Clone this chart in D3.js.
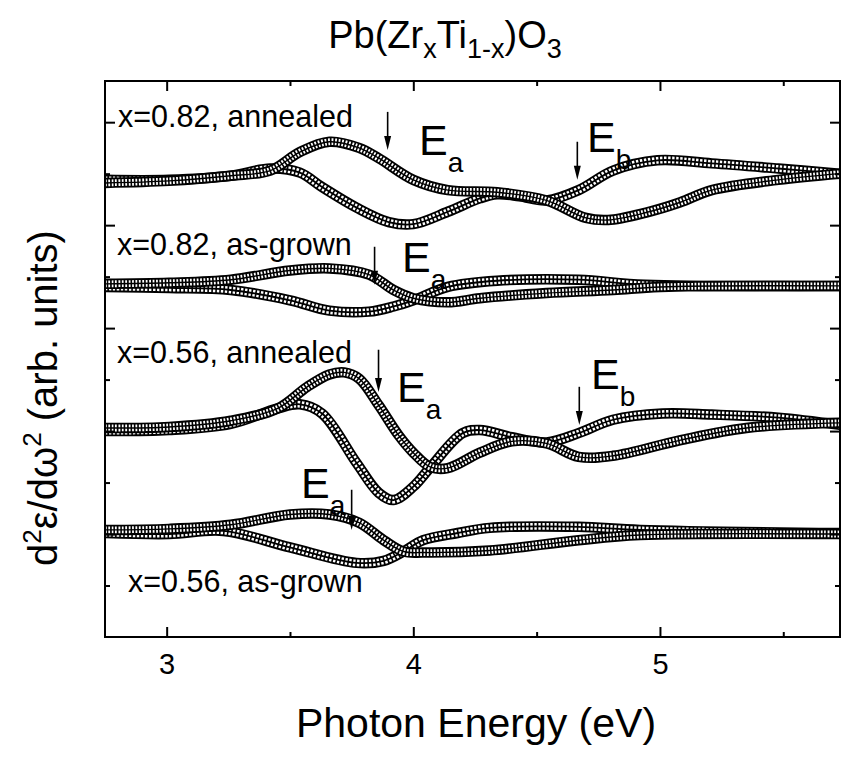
<!DOCTYPE html>
<html><head><meta charset="utf-8">
<script src="https://cdn.jsdelivr.net/npm/d3@7"></script>
<style>body{margin:0;background:#fff;} svg{display:block;}</style>
</head><body>
<svg id="chart" width="841" height="762"></svg>
<script>
// ---------- data ----------
const xTicksMajor = [3, 4, 5];
const xTickLabels = ["3", "4", "5"];
const xTicksMinor = [3.5, 4.5, 5.5];
const yTicksMajor = [1, 2, 3, 4, 5];
const yTicksMinor = [0.5, 1.5, 2.5, 3.5, 4.5];

// x=0.82 annealed
const ann082Tri = [[2.75,4.41],[3.01,4.43],[3.26,4.48],[3.42,4.53],[3.54,4.71],[3.66,4.81],[3.78,4.75],[3.86,4.65],[4.00,4.44],[4.14,4.34],[4.34,4.32],[4.54,4.24],[4.70,4.07],[4.79,4.05],[4.94,4.12],[5.08,4.22],[5.21,4.34],[5.48,4.44],[5.73,4.50]];
const ann082Circ = [[2.75,4.44],[3.01,4.44],[3.26,4.48],[3.42,4.55],[3.54,4.51],[3.63,4.37],[3.77,4.17],[3.90,4.03],[4.00,4.01],[4.14,4.13],[4.27,4.26],[4.34,4.30],[4.43,4.28],[4.54,4.24],[4.67,4.34],[4.81,4.53],[4.99,4.63],[5.21,4.60],[5.48,4.55],[5.73,4.50]];
// x=0.82 as-grown
const grown082Tri = [[2.75,3.43],[3.01,3.44],[3.26,3.47],[3.50,3.56],[3.66,3.58],[3.82,3.52],[3.92,3.37],[4.00,3.29],[4.14,3.25],[4.27,3.29],[4.54,3.34],[4.81,3.37],[5.00,3.40],[5.73,3.41]];
const grown082Circ = [[2.75,3.40],[3.01,3.39],[3.26,3.37],[3.50,3.27],[3.66,3.17],[3.82,3.16],[3.92,3.21],[4.00,3.27],[4.14,3.40],[4.34,3.46],[4.67,3.47],[4.94,3.42],[5.73,3.41]];
// x=0.56 annealed
const ann056Tri = [[2.75,2.03],[3.01,2.04],[3.26,2.10],[3.45,2.22],[3.57,2.43],[3.66,2.55],[3.72,2.57],[3.78,2.51],[3.86,2.25],[3.94,1.96],[4.00,1.79],[4.07,1.65],[4.14,1.64],[4.27,1.79],[4.40,1.90],[4.54,1.88],[4.67,1.75],[4.81,1.76],[5.08,1.91],[5.35,2.03],[5.73,2.08]];
const ann056Circ = [[2.75,2.00],[3.01,2.01],[3.26,2.07],[3.45,2.22],[3.54,2.26],[3.63,2.17],[3.77,1.69],[3.86,1.40],[3.92,1.33],[4.00,1.46],[4.07,1.65],[4.20,1.98],[4.27,2.01],[4.40,1.94],[4.54,1.89],[4.67,1.98],[4.81,2.11],[5.01,2.17],[5.21,2.16],[5.48,2.13],[5.73,2.06]];
// x=0.56 as-grown
const grown056Tri = [[2.75,1.04],[3.01,1.05],[3.26,1.09],[3.50,1.19],[3.66,1.19],[3.78,1.11],[3.88,0.94],[3.96,0.83],[4.04,0.82],[4.31,0.84],[4.67,0.94],[4.92,0.99],[5.73,1.00]];
const grown056Circ = [[2.75,1.01],[3.01,1.00],[3.23,1.03],[3.50,0.87],[3.77,0.72],[3.88,0.74],[3.96,0.83],[4.04,0.94],[4.18,1.01],[4.31,1.06],[4.67,1.07],[4.92,1.04],[5.73,1.01]];

// sample labels
const sampleLabels = ["x=0.82, annealed", "x=0.82, as-grown", "x=0.56, annealed", "x=0.56, as-grown"];
// transition-energy arrows: energy, arrow top, arrow tip (arb. units)
const arrowE = [3.896, 4.665, 3.843, 3.859, 4.673, 3.75];
const arrowTop = [5.10, 4.81, 3.79, 2.79, 2.43, 1.43];
const arrowTip = [4.73, 4.44, 3.42, 2.38, 2.06, 1.04];
const transLabels = ["a", "b", "a", "a", "b", "a"];

// ---------- layout ----------
const svg = d3.select("#chart");
const L = 105, R = 840, T = 81, B = 637;
const x = d3.scaleLinear().domain([2.75, 5.73]).range([L, R]);
const y = d3.scaleLinear().domain([0, 5.4]).range([B, T]);
const FONT = "'Liberation Sans', Arial, Helvetica, sans-serif";

svg.append("defs").append("clipPath").attr("id", "clip")
  .append("rect").attr("x", L).attr("y", T).attr("width", R - L).attr("height", B - T);

// ---------- curves ----------
const line = d3.line().x(d => x(d[0])).y(d => y(d[1])).curve(d3.curveCatmullRom.alpha(0.5));
const gCurves = svg.append("g").attr("clip-path", "url(#clip)");
function rope(data, kind) {
  const g = gCurves.append("g");
  g.append("path").attr("d", line(data)).attr("fill", "none").attr("stroke", "#000").attr("stroke-width", 10.5);
  g.append("path").attr("d", line(data)).attr("fill", "none").attr("stroke", "#fff")
    .attr("stroke-width", 6.8).attr("stroke-dasharray", kind === "tri" ? "1.8 1.6" : "2.4 1.6");
  g.append("path").attr("d", line(data)).attr("fill", "none").attr("stroke", "#000")
    .attr("stroke-width", kind === "tri" ? 1.4 : 1.8);
}
[[ann082Circ, ann082Tri], [grown082Circ, grown082Tri], [ann056Circ, ann056Tri], [grown056Circ, grown056Tri]]
  .forEach(([c, t]) => { rope(c, "circ"); rope(t, "tri"); });

// ---------- axes ----------
function styleAxis(g) {
  g.select(".domain").remove();
  g.selectAll(".tick line").attr("stroke", "#000").attr("stroke-width", 2);
  g.selectAll("text").attr("font-family", FONT).attr("fill", "#000");
}
svg.append("g").attr("transform", `translate(0,${B})`)
  .call(d3.axisBottom(x).tickValues(xTicksMajor).tickFormat((d, i) => xTickLabels[i]).tickSize(-10).tickPadding(16))
  .call(styleAxis).selectAll("text").attr("font-size", 29);
svg.append("g").attr("transform", `translate(0,${B})`)
  .call(d3.axisBottom(x).tickValues(xTicksMinor).tickFormat("").tickSize(-5)).call(styleAxis);
svg.append("g").attr("transform", `translate(0,${T})`)
  .call(d3.axisTop(x).tickValues(xTicksMajor).tickFormat("").tickSize(-10)).call(styleAxis);
svg.append("g").attr("transform", `translate(0,${T})`)
  .call(d3.axisTop(x).tickValues(xTicksMinor).tickFormat("").tickSize(-5)).call(styleAxis);
svg.append("g").attr("transform", `translate(${L},0)`)
  .call(d3.axisLeft(y).tickValues(yTicksMajor).tickFormat("").tickSize(-10)).call(styleAxis);
svg.append("g").attr("transform", `translate(${L},0)`)
  .call(d3.axisLeft(y).tickValues(yTicksMinor).tickFormat("").tickSize(-5)).call(styleAxis);
svg.append("g").attr("transform", `translate(${R},0)`)
  .call(d3.axisRight(y).tickValues(yTicksMajor).tickFormat("").tickSize(-10)).call(styleAxis);
svg.append("g").attr("transform", `translate(${R},0)`)
  .call(d3.axisRight(y).tickValues(yTicksMinor).tickFormat("").tickSize(-5)).call(styleAxis);

svg.append("rect").attr("x", L).attr("y", T).attr("width", R - L).attr("height", B - T)
  .attr("fill", "none").attr("stroke", "#000").attr("stroke-width", 2);

// ---------- title ----------
const title = svg.append("text").attr("x", 445).attr("y", 48).attr("text-anchor", "middle")
  .attr("font-family", FONT).attr("font-size", 38).attr("fill", "#000");
title.append("tspan").text("Pb(Zr");
title.append("tspan").text("x").attr("font-size", 27).attr("dy", 10);
title.append("tspan").text("Ti").attr("dy", -10);
title.append("tspan").text("1-x").attr("font-size", 27).attr("dy", 10);
title.append("tspan").text(")O").attr("dy", -10);
title.append("tspan").text("3").attr("font-size", 27).attr("dy", 10);

// ---------- axis titles ----------
svg.append("text").attr("x", 476).attr("y", 737).attr("text-anchor", "middle")
  .attr("font-family", FONT).attr("font-size", 41).attr("fill", "#000").text("Photon Energy (eV)");
const yl = svg.append("text").attr("transform", "translate(57,398) rotate(-90)").attr("text-anchor", "middle")
  .attr("font-family", FONT).attr("font-size", 40).attr("fill", "#000");
yl.append("tspan").text("d");
yl.append("tspan").text("2").attr("font-size", 26).attr("dy", -16);
yl.append("tspan").text("ε/dω").attr("dy", 16);
yl.append("tspan").text("2").attr("font-size", 26).attr("dy", -16);
yl.append("tspan").text(" (arb. units)").attr("dy", 16);

// ---------- sample labels ----------
const labelPos = [[118, 127], [117, 255], [117, 363], [128, 592]];
sampleLabels.forEach((t, i) => {
  svg.append("text").attr("x", labelPos[i][0]).attr("y", labelPos[i][1])
    .attr("font-family", FONT).attr("font-size", 30.5).attr("fill", "#000").text(t);
});

// ---------- arrows and E labels ----------
arrowE.forEach((e, i) => {
  const ax = x(e), y0 = y(arrowTop[i]), y1 = y(arrowTip[i]);
  svg.append("line").attr("x1", ax).attr("x2", ax).attr("y1", y0).attr("y2", y1 - 10)
    .attr("stroke", "#000").attr("stroke-width", 1.6);
  svg.append("path").attr("d", `M${ax - 3.5},${y1 - 14}L${ax + 3.5},${y1 - 14}L${ax},${y1}Z`).attr("fill", "#000");
});
const ePos = [[419, 155], [587, 152], [402, 272], [397, 402], [591, 389], [301, 498]];
transLabels.forEach((s, i) => {
  const t = svg.append("text").attr("x", ePos[i][0]).attr("y", ePos[i][1])
    .attr("font-family", FONT).attr("font-size", 43).attr("fill", "#000");
  t.append("tspan").text("E");
  t.append("tspan").text(s).attr("font-size", 28).attr("dy", 17);
});
</script>
</body></html>
